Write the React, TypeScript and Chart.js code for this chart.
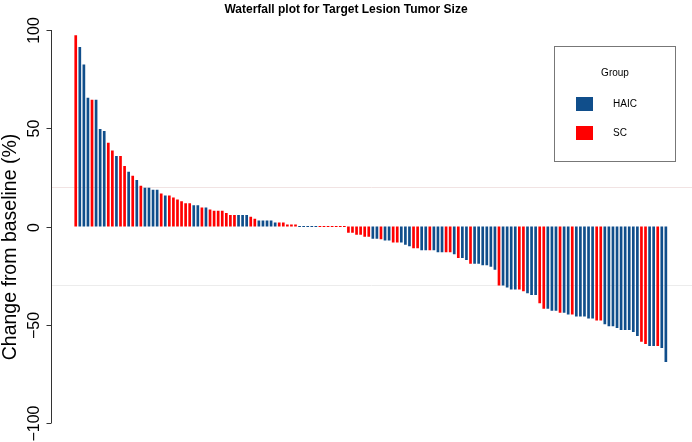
import React, { useEffect, useRef } from "react";
import { Chart, registerables } from "chart.js";

Chart.register(...registerables);

const TITLE = "Waterfall plot for Target Lesion Tumor Size";
const Y_TITLE = "Change from baseline (%)";
const Y_TICKS = [-100, -50, 0, 50, 100];
const REF_LINES = [20, -30];
const REF_COLORS = ["#f1e3e3", "#ececec"];
const LEGEND_TITLE = "Group";
const GROUP_NAMES = ["HAIC", "SC"];
const GROUP_COLORS = ["#104E8B", "#FF0000"];

const VALUES = [
  97.3, 91.4, 82.5, 65.5, 64.5, 64.5, 49.6, 48.6, 42.6, 38.7,
  35.9, 35.9, 30.8, 27.8, 25.8, 23.7, 20.7, 19.7, 19.7, 18.7,
  18.7, 16.8, 15.8, 15.8, 14.8, 13.8, 12.8, 11.8, 11.8, 10.8,
  10.8, 9.7, 9.7, 8.7, 8.0, 8.0, 8.0, 6.9, 5.9, 5.9,
  5.9, 5.9, 5.9, 4.9, 3.9, 3.0, 3.0, 3.0, 3.0, 2.0,
  2.0, 2.0, 1.0, 1.0, 1.0,
  0, 0, 0, 0, 0, 0, 0, 0, 0, 0, 0, 0,
  -3.2, -3.2, -4.2, -4.2, -5.2, -5.2, -6.2, -6.2, -6.5, -7.1,
  -7.1, -8.1, -8.1, -8.1, -9.3, -10.1, -11.1, -11.1, -12.1, -12.1,
  -12.1, -12.1, -13.1, -13.1, -13.1, -13.1, -14.1, -16, -16, -17,
  -19, -19, -19, -19.7, -19.7, -20.5, -22, -30, -30, -31,
  -32, -32, -32, -33, -34, -34.8, -34.8, -39, -41.9, -41.9,
  -42.9, -42.9, -43.9, -43.9, -44.8, -44.8, -45.8, -45.8, -45.8, -46.8,
  -46.8, -47.8, -47.8, -49.7, -50.7, -50.7, -51.7, -52.7, -52.7, -52.7,
  -53.7, -55.7, -58.7, -59.8, -60.8, -60.8, -60.8, -61.8, -68.9,
];

const GROUPS = [
  "SC", "HAIC", "HAIC", "HAIC", "SC", "HAIC", "HAIC", "HAIC", "SC", "SC",
  "HAIC", "SC", "SC", "HAIC", "SC", "HAIC", "SC", "HAIC", "HAIC", "HAIC",
  "HAIC", "SC", "HAIC", "SC", "SC", "SC", "SC", "SC", "SC", "HAIC",
  "HAIC", "SC", "HAIC", "SC", "SC", "SC", "SC", "SC", "SC", "SC",
  "HAIC", "HAIC", "HAIC", "SC", "SC", "HAIC", "HAIC", "HAIC", "HAIC", "HAIC",
  "SC", "SC", "SC", "SC", "SC",
  "HAIC", "HAIC", "HAIC", "HAIC", "HAIC",
  "SC", "SC", "SC", "SC", "SC", "SC", "SC",
  "SC", "SC", "SC", "SC", "SC", "SC", "HAIC", "HAIC", "SC", "HAIC",
  "HAIC", "SC", "SC", "HAIC", "HAIC", "HAIC", "SC", "SC", "HAIC", "HAIC",
  "SC", "HAIC", "HAIC", "HAIC", "SC", "SC", "HAIC", "SC", "HAIC", "HAIC",
  "SC", "HAIC", "HAIC", "HAIC", "HAIC", "HAIC", "HAIC", "SC", "HAIC", "HAIC",
  "HAIC", "HAIC", "SC", "SC", "HAIC", "HAIC", "HAIC", "SC", "SC", "HAIC",
  "HAIC", "HAIC", "SC", "HAIC", "HAIC", "SC", "HAIC", "HAIC", "HAIC", "HAIC",
  "HAIC", "SC", "SC", "HAIC", "HAIC", "HAIC", "HAIC", "HAIC", "HAIC", "HAIC",
  "HAIC", "HAIC", "SC", "SC", "HAIC", "HAIC", "SC", "HAIC", "HAIC",
];

const CATEGORIES = VALUES.map((_, i) => String(i + 1));

const FONT = "'Liberation Sans', Arial, Helvetica, sans-serif";

const overlay = {
  id: "overlay",
  beforeDatasetsDraw(chart: any) {
    const ctx = chart.ctx;
    const y = chart.scales.y;
    ctx.save();
    REF_LINES.forEach((v, i) => {
      const py = Math.round(y.getPixelForValue(v)) + 0.5;
      ctx.strokeStyle = REF_COLORS[i];
      ctx.lineWidth = 1;
      ctx.beginPath();
      ctx.moveTo(51, py);
      ctx.lineTo(chart.width, py);
      ctx.stroke();
    });
    ctx.restore();
  },
  afterDraw(chart: any) {
    const ctx = chart.ctx;
    const y = chart.scales.y;
    ctx.save();
    // y axis line
    const axX = 51.5;
    ctx.strokeStyle = "#333";
    ctx.lineWidth = 1;
    ctx.beginPath();
    ctx.moveTo(axX, y.getPixelForValue(Y_TICKS[Y_TICKS.length - 1]));
    ctx.lineTo(axX, y.getPixelForValue(Y_TICKS[0]));
    ctx.stroke();
    ctx.fillStyle = "#000";
    ctx.font = `16px ${FONT}`;
    ctx.textAlign = "center";
    ctx.textBaseline = "alphabetic";
    Y_TICKS.forEach((t) => {
      const py = Math.round(y.getPixelForValue(t)) + 0.5;
      ctx.beginPath();
      ctx.moveTo(axX, py);
      ctx.lineTo(axX - 5, py);
      ctx.stroke();
      ctx.save();
      ctx.translate(38.5, py);
      ctx.rotate(-Math.PI / 2);
      ctx.fillText(t < 0 ? "\u2212" + Math.abs(t) : String(t), 0, 0);
      ctx.restore();
    });
    // y title
    ctx.save();
    ctx.font = `19.5px ${FONT}`;
    ctx.translate(15.5, 247);
    ctx.rotate(-Math.PI / 2);
    ctx.fillText(Y_TITLE, 0, 0);
    ctx.restore();
    // title
    ctx.font = `bold 12px ${FONT}`;
    ctx.textAlign = "center";
    ctx.fillText(TITLE, 346, 13);
    // legend
    ctx.strokeStyle = "#777";
    ctx.strokeRect(554.5, 46.5, 121, 115);
    ctx.font = `10px ${FONT}`;
    ctx.textBaseline = "middle";
    ctx.fillText(LEGEND_TITLE, 615, 73);
    GROUP_NAMES.forEach((g, i) => {
      const cy = 104 + i * 29;
      ctx.fillStyle = GROUP_COLORS[i];
      ctx.fillRect(576, cy - 7, 17, 14);
      ctx.fillStyle = "#000";
      ctx.textAlign = "left";
      ctx.fillText(g, 613, cy);
    });
    ctx.restore();
  },
};

export default function App() {
  const ref = useRef<HTMLCanvasElement>(null);
  useEffect(() => {
    if (!ref.current) return;
    const colors = GROUPS.map((g) => GROUP_COLORS[GROUP_NAMES.indexOf(g)]);
    const chart = new Chart(ref.current, {
      type: "bar",
      data: {
        labels: CATEGORIES,
        datasets: [
          {
            label: "Change",
            data: VALUES,
            backgroundColor: colors,
            borderWidth: 0,
            barPercentage: 0.66,
            categoryPercentage: 1,
            minBarLength: 1.2,
          },
        ],
      },
      options: {
        responsive: false,
        animation: false,
        devicePixelRatio: 1,
        layout: { padding: { left: 73.7, right: 24.1, top: 30, bottom: 19 } },
        plugins: {
          legend: { display: false },
          title: { display: false },
          tooltip: { enabled: false },
        },
        scales: {
          x: { display: false, grid: { display: false } },
          y: { display: false, min: -100, max: 100, grid: { display: false } },
        },
      },
      plugins: [overlay],
    });
    return () => chart.destroy();
  }, []);
  return (
    <div style={{ position: "absolute", left: 0, top: 0, width: 692, height: 442, background: "#fff" }}>
      <canvas ref={ref} width={692} height={442} style={{ width: 692, height: 442, display: "block" }} />
    </div>
  );
}
